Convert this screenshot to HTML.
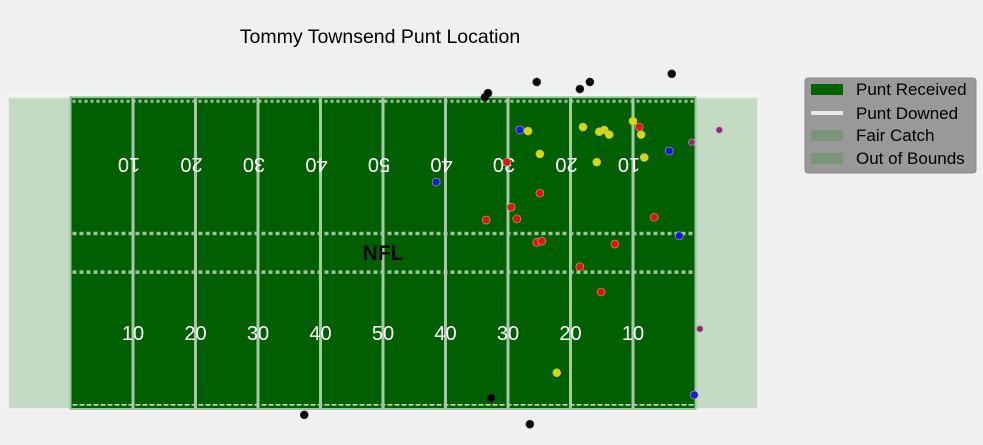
<!DOCTYPE html>
<html><head><meta charset="utf-8"><style>
body{margin:0;background:#f0f0f0;}
svg{display:block;font-family:"Liberation Sans","DejaVu Sans",sans-serif;}
</style></head><body>
<svg id="chart" width="983" height="445" viewBox="0 0 983 445" xmlns="http://www.w3.org/2000/svg">
<rect width="983" height="445" fill="#f0f0f0"/>
<text x="380" y="43" font-size="19.5" text-anchor="middle" fill="#000">Tommy Townsend Punt Location</text>
<g id="field"></g>
<g id="points"></g>
<g>
<rect x="805" y="78" width="171" height="95" rx="3" fill="#999" stroke="#8a8a8a"/>
<rect x="811" y="84" width="32" height="11" fill="#006400"/>
<text x="856" y="95" font-size="17" fill="#000">Punt Received</text>
<rect x="811" y="111" width="32" height="4" fill="#e8e8e8"/>
<text x="856" y="119" font-size="17" fill="#000">Punt Downed</text>
<rect x="811" y="130" width="32" height="11" fill="#7a957a"/>
<text x="856" y="141" font-size="17" fill="#000">Fair Catch</text>
<rect x="811" y="153" width="32" height="11" fill="#7a957a"/>
<text x="856" y="164" font-size="17" fill="#000">Out of Bounds</text>
</g>
</svg>
<script>
const xs = [76.3,76.8,84.6,91.5,93.1,106.2,77.3,47.4,83.5, 81.9,68.5,105.8,107.4,109.8, 83.2,92.0,94.6,95.4,96.2,100.0,101.3,101.8,94.2,85.1,87.8, 101.0,79.8,85.1,80.5,81.4,76.5,84.6,85.4,97.1,103.4,91.5,94.9, 109.4,113.8,110.7];
const ys = [53.3,54.0,55.9,54.7,55.9,57.3,1.9,-1.0,-2.6, 47.7,38.8,44.1,29.6,2.4, 47.5,48.2,47.4,47.7,46.9,49.2,46.9,43.0,42.2,43.6,6.2, 48.2,42.2,36.9,34.5,32.5,32.3,28.5,28.7,28.2,32.8,24.3,20.0, 45.6,47.7,13.7];
const kinds = ["black","black","black","black","black","black","black","black","black","blue","blue","blue","blue","blue","yellow","yellow","yellow","yellow","yellow","yellow","yellow","yellow","yellow","yellow","yellow","red","red","red","red","red","red","red","red","red","red","red","red","purple","purple","purple"];
const yardLabels = ["10","20","30","40","50","40","30","20","10"];
const colorMap = {black:"#000000",blue:"#0a1fd8",yellow:"#cfdc00",red:"#d81a0a",purple:"#8a2a8a"};
const NS="http://www.w3.org/2000/svg";
const X = v => 8 + v*6.25;
const Y = v => 409 - v*5.85;
function mk(tag, attrs, parent){const e=document.createElementNS(NS,tag);for(const k in attrs)e.setAttribute(k,attrs[k]);parent.appendChild(e);return e;}
const f=document.getElementById('field');
mk('rect',{x:6,y:95,width:754,height:316,fill:"#f7f7f7"},f);
let ezl=mk('rect',{x:X(0),y:Y(53.3),width:X(10)-X(0),height:Y(0)-Y(53.3),fill:"#c3dac3",stroke:"#e8f0e8","stroke-width":2},f);


let ezr=mk('rect',{x:X(110),y:Y(53.3),width:X(120)-X(110),height:Y(0)-Y(53.3),fill:"#c3dac3",stroke:"#e8f0e8","stroke-width":2},f);


let pf=mk('rect',{x:X(10),y:Y(53.3),width:X(110)-X(10),height:Y(0)-Y(53.3),fill:"#005f00",stroke:"#9cc49c","stroke-width":2},f);


mk('line',{x1:X(10)+2,x2:X(110)-2,y1:Y(52.6),y2:Y(52.6),stroke:"#9cc49c","stroke-width":3,"stroke-dasharray":"3 3"},f);
mk('line',{x1:X(10)+2,x2:X(110)-2,y1:Y(30.0),y2:Y(30.0),stroke:"#9cc49c","stroke-width":3.5,"stroke-dasharray":"4 3"},f);
mk('line',{x1:X(10)+2,x2:X(110)-2,y1:Y(23.4),y2:Y(23.4),stroke:"#9cc49c","stroke-width":3.5,"stroke-dasharray":"4 3"},f);
mk('line',{x1:X(10)+2,x2:X(110)-2,y1:Y(0.7),y2:Y(0.7),stroke:"#ffffff","stroke-width":1.2,"stroke-dasharray":"5 2"},f);
for(let i=0;i<yardLabels.length;i++){
  const yd=20+i*10, x=X(yd);
  const l=mk('line',{x1:x,x2:x,y1:Y(53.3)+1,y2:Y(0)-1,stroke:"#a7c8a7","stroke-width":3},f);
  
  
  const t=mk('text',{x:x,y:340,"font-size":20,fill:"#fff","text-anchor":"middle"},f);
  t.textContent=yardLabels[i];
  
  
  const t2=mk('text',{x:0,y:0,"font-size":20,fill:"#fff","text-anchor":"middle",transform:`translate(${x-4},158) rotate(180)`},f);
  t2.textContent=yardLabels[i];
  
  
}
const nfl=mk('text',{x:383,y:260,"font-size":21,"font-weight":"bold",fill:"#0a0a0a","text-anchor":"middle"},f);
nfl.textContent="NFL";


const p=document.getElementById('points');
for(let i=0;i<xs.length;i++){
  const c=mk('circle',{cx:X(xs[i]),cy:Y(ys[i]),r:kinds[i]==="purple"?3.3:4,fill:colorMap[kinds[i]],stroke:kinds[i]==="black"?"#333":"#e0a0a0","stroke-width":0.6},p);
  
  
}
</script>
</body></html>
